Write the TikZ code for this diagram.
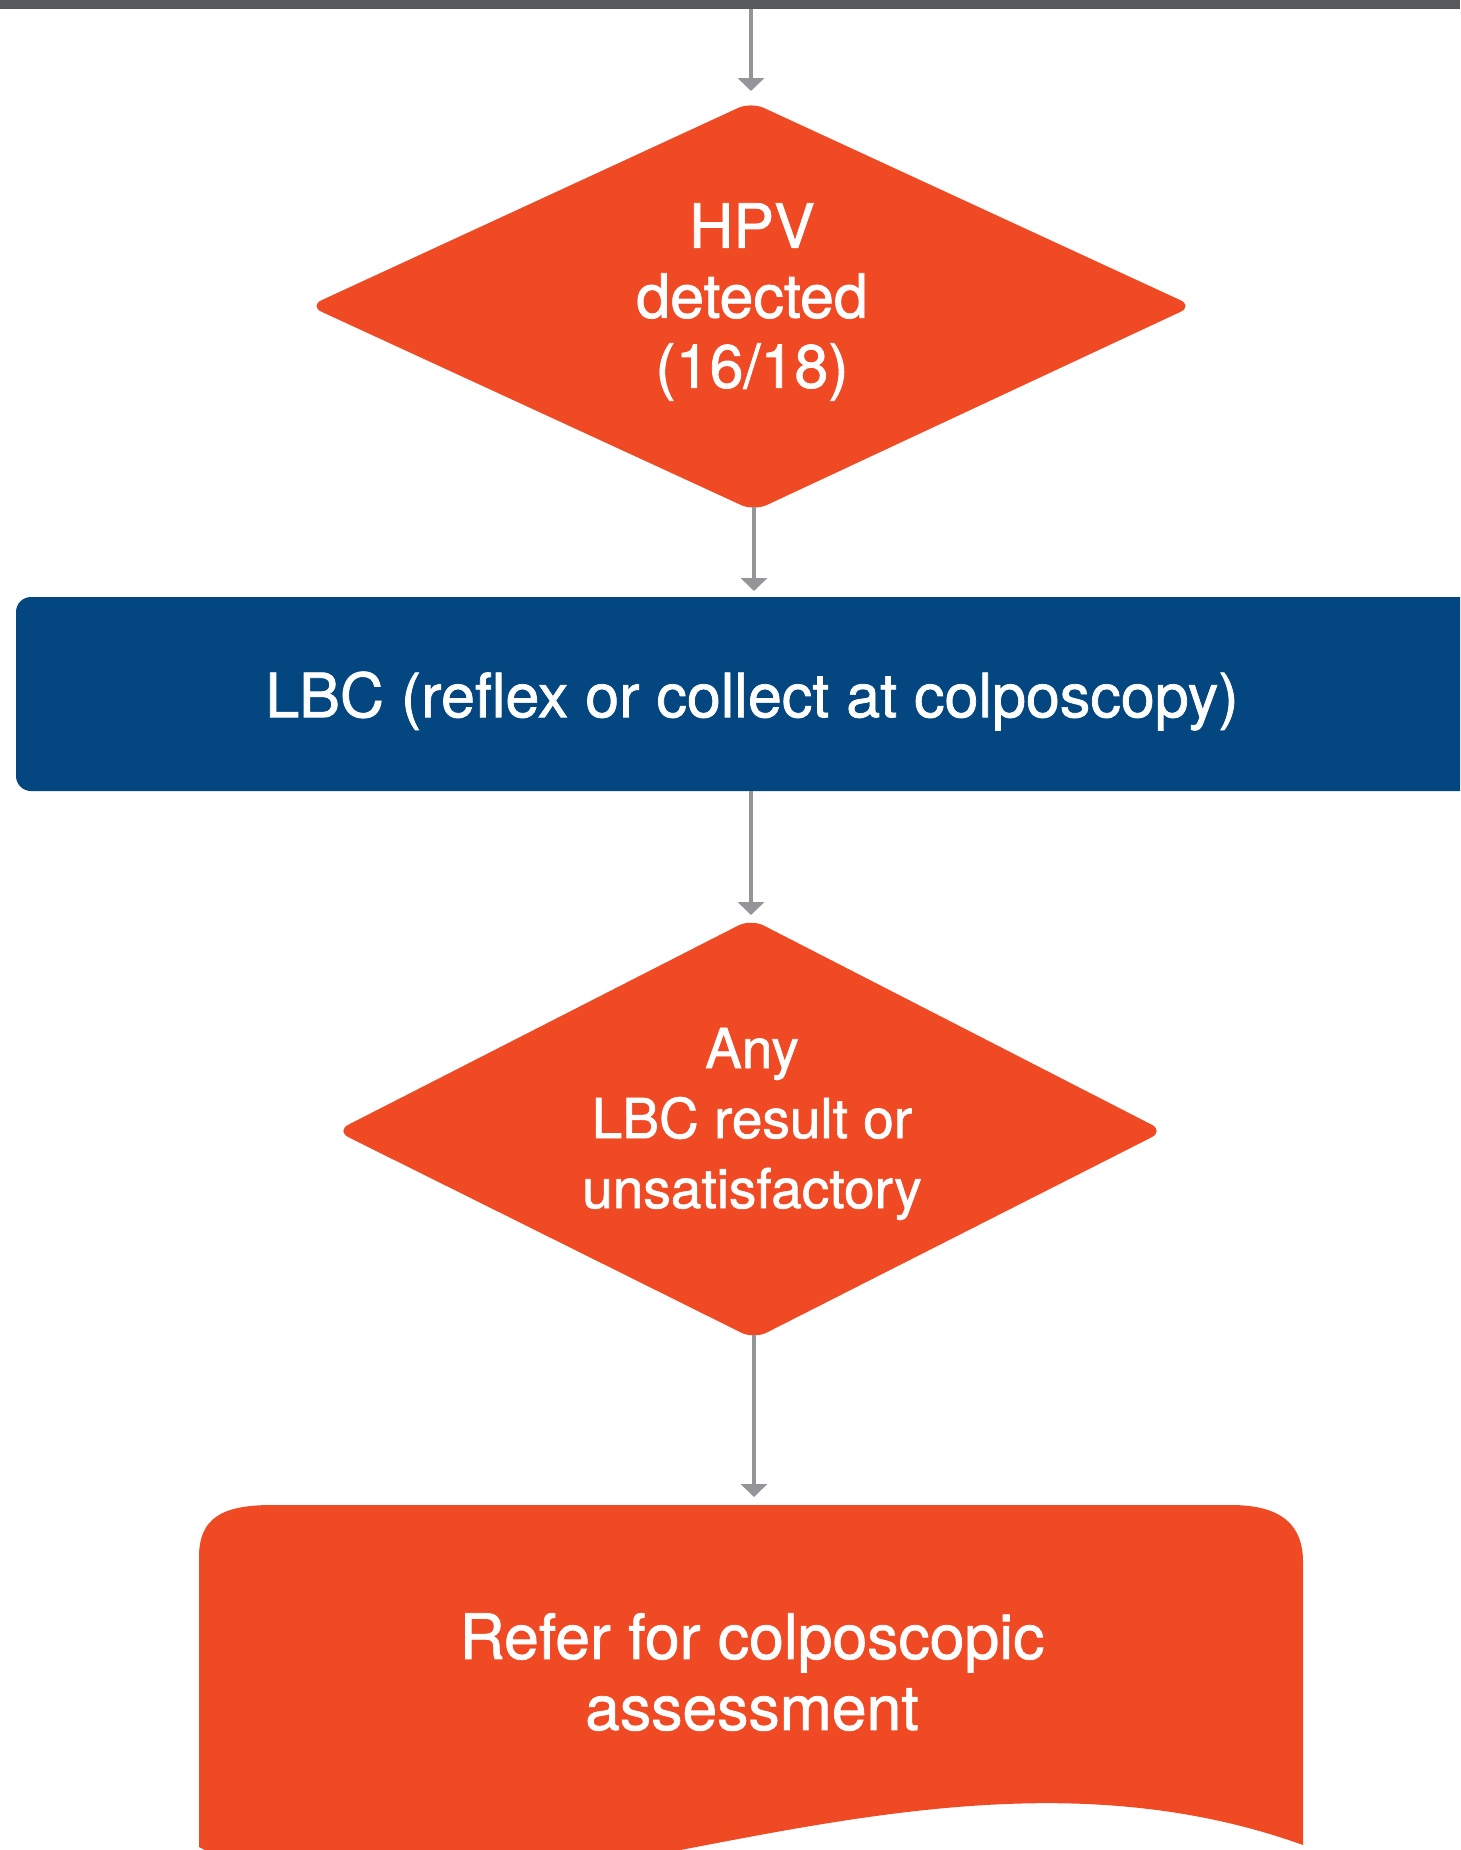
\documentclass[tikz,border=0pt]{standalone}
\usepackage{fontspec}
\setmainfont{TeX Gyre Heros}[FakeBold=1.2]
\usetikzlibrary{arrows.meta}
\definecolor{orangefill}{HTML}{F04A24}
\definecolor{bluefill}{HTML}{034680}
\definecolor{conngray}{HTML}{939598}
\definecolor{bargray}{HTML}{58595B}
\tikzset{
  conn/.style={draw=conngray, line width=4.5pt, -{Triangle[width=26pt,length=13pt]}},
  wtext/.style={text=white, align=center, inner sep=0pt},
}
\begin{document}
\begin{tikzpicture}[x=1pt,y=-1pt]
\useasboundingbox (0,0) rectangle (1460,1850);
\clip (0,0) rectangle (1460,1850);
% top bar
\fill[bargray] (0,0) rectangle (1460,9);
\coordinate (bar) at (751,9);
% diamond 1
\fill[orangefill, rounded corners=14pt] (751,102) -- (1193,306) -- (754,511) -- (309,306) -- cycle;
\coordinate (d1in) at (751,91);
\coordinate (d1out) at (754,507);
\node[wtext, font=\fontsize{61}{70}\selectfont] (hpv) at (752,302) {HPV\\detected\\(16/18)};
% blue box
\fill[bluefill, rounded corners=15pt] (16,597) rectangle (1530,791);
\coordinate (lbcin) at (754,591);
\coordinate (lbcout) at (751,791);
\node[wtext, font=\fontsize{61}{70}\selectfont] (lbc) at (752,701) {LBC (reflex or collect at colposcopy)};
% diamond 2
\fill[orangefill, rounded corners=14pt] (751,919) -- (1164,1131) -- (754,1339) -- (336,1131) -- cycle;
\coordinate (d2in) at (751,915);
\coordinate (d2out) at (754,1335);
\node[wtext, font=\fontsize{55}{70}\selectfont] (anylbc) at (752,1124) {Any\\LBC result or\\unsatisfactory};
% document shape
\fill[orangefill] (199,1557) .. controls (199,1518) and (222,1505) .. (272,1505)
  -- (1231,1505) .. controls (1284,1505) and (1303,1527) .. (1303,1562)
  -- (1303,1845) .. controls (900,1700) and (480,1990) .. (199,1847) -- cycle;
\coordinate (docin) at (754,1497);
\node[wtext, font=\fontsize{62.5}{71}\selectfont] (refer) at (752,1672) {Refer for colposcopic\\assessment};
% connectors
\draw[conn] (bar) -- (d1in);
\draw[conn] (d1out) -- (lbcin);
\draw[conn] (lbcout) -- (d2in);
\draw[conn] (d2out) -- (docin);
\end{tikzpicture}
\end{document}
